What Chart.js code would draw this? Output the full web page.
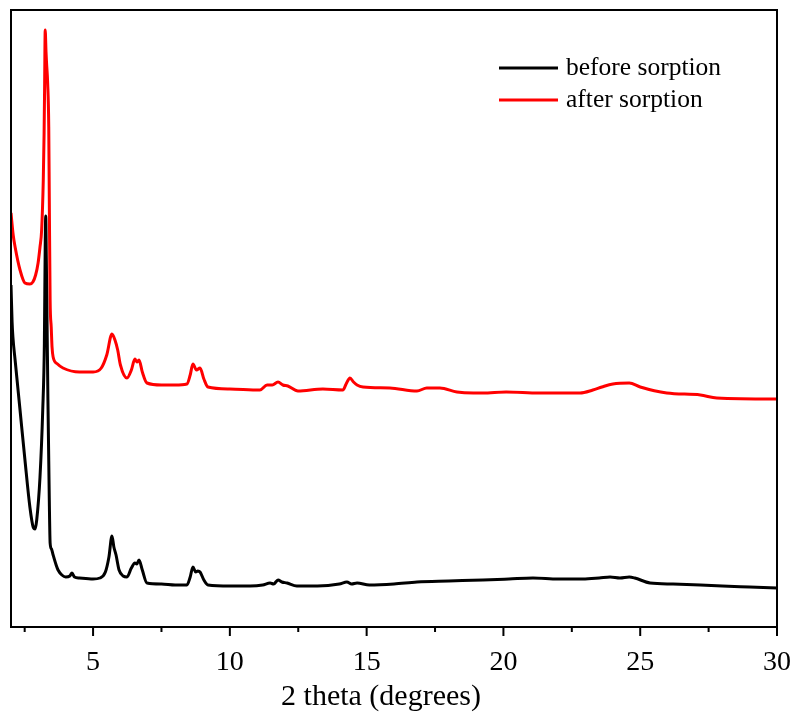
<!DOCTYPE html>
<html>
<head>
<meta charset="utf-8">
<script src="https://cdn.jsdelivr.net/npm/chart.js@4/dist/chart.umd.min.js"></script>
<style>
  html, body { margin: 0; padding: 0; background: #fff; }
  #wrap { width: 797px; height: 717px; }
</style>
</head>
<body>
<div id="wrap"><canvas id="xrdChart"></canvas></div>
<script>
// 2 theta positions and intensities (a.u.)
var beforeX = [2.00, 2.04, 2.07, 2.15, 2.33, 2.51, 2.69, 2.81, 2.88, 2.94, 3.06, 3.16, 3.22, 3.25, 3.27, 3.29, 3.32, 3.35, 3.40, 3.43,
  3.48, 3.54, 3.65, 3.72, 3.86, 4.00, 4.15, 4.23, 4.32, 4.50, 5.00, 5.25, 5.45, 5.58, 5.69, 5.76, 5.84, 5.95, 6.10, 6.24,
  6.40, 6.53, 6.60, 6.68, 6.80, 6.97, 7.50, 8.00, 8.43, 8.55, 8.65, 8.75, 8.83, 8.91, 9.05, 9.20, 10.0, 10.74, 11.2, 11.47,
  11.6, 11.76, 11.9, 12.09, 12.45, 13.2, 14.0, 14.28, 14.45, 14.65, 15.1, 16.0, 16.84, 18.0, 19.25, 20.2, 21.08, 22.0, 22.9, 23.5,
  23.9, 24.26, 24.6, 24.8, 25.36, 26.2, 27.2, 28.0, 29.0, 30.0];
var beforeY = [342, 305, 290, 267, 217, 167, 120, 100, 98, 107, 150, 217, 284, 380, 411, 370, 300, 227, 127, 84,
  78, 72, 62, 57, 52, 50, 51, 54, 50, 49, 48, 49, 55, 70, 91, 80, 72, 57, 51, 50,
  59, 64, 63, 67, 57, 44, 43, 42, 42, 50, 60, 55, 56, 55, 47, 42, 41, 41, 42, 44,
  43, 47, 45, 44, 41, 41, 43, 45, 43, 44, 42, 43, 45, 46, 47, 48, 49, 48, 48, 49,
  50, 49, 50, 49, 44, 43, 42, 41, 40, 39];

var afterX = [2.00, 2.08, 2.15, 2.33, 2.51, 2.69, 2.80, 2.90, 2.99, 3.06, 3.12, 3.18, 3.21, 3.23, 3.25, 3.28, 3.30, 3.34, 3.38, 3.40,
  3.43, 3.47, 3.50, 3.54, 3.70, 3.90, 4.50, 5.00, 5.30, 5.50, 5.69, 5.80, 5.90, 6.00, 6.24, 6.40, 6.53, 6.60, 6.68, 6.80,
  6.97, 7.50, 8.00, 8.43, 8.55, 8.65, 8.78, 8.91, 9.05, 9.20, 10.0, 11.1, 11.36, 11.55, 11.76, 11.94, 12.12, 12.49, 13.4, 14.13,
  14.25, 14.39, 14.52, 14.65, 14.87, 15.85, 16.84, 17.2, 17.68, 18.3, 18.9, 19.25, 20.1, 21.3, 22.8, 23.27, 23.6, 24.0, 24.6, 25.0,
  25.97, 27.2, 27.8, 29.85, 30.0];
var afterY = [414, 392, 380, 357, 344, 343, 345, 352, 364, 380, 397, 447, 494, 544, 597, 575, 564, 544, 500, 427,
  327, 300, 280, 270, 263, 259, 255, 255, 259, 272, 293, 287, 277, 262, 249, 257, 268, 265, 267, 255,
  244, 242, 242, 243, 252, 263, 257, 259, 248, 240, 238, 237, 242, 242, 245, 242, 241, 236, 238, 237,
  243, 249, 245, 242, 240, 239, 236, 239, 239, 235, 234, 234, 235, 234, 234, 237, 240, 243, 244, 240,
  234, 232, 229, 228, 228];

var seriesLabels = ['before sorption', 'after sorption'];
var seriesColors = ['#000000', '#ff0000'];
var majorTicks = [5, 10, 15, 20, 25, 30];
var minorTicks = [2.5, 7.5, 12.5, 17.5, 22.5, 27.5];
var xTitle = '2 theta (degrees)';

function toPoints(xs, ys) {
  return xs.map((x, i) => ({ x: x, y: ys[i] }));
}

// frame, tick marks, axis title and in-plot legend
var framePlugin = {
  id: 'frame',
  afterDraw(chart) {
    var ctx = chart.ctx;
    var area = chart.chartArea;
    var xScale = chart.scales.x;
    ctx.save();
    ctx.strokeStyle = '#000';
    ctx.lineWidth = 2;
    ctx.strokeRect(area.left, area.top, area.right - area.left, area.bottom - area.top);
    ctx.beginPath();
    majorTicks.forEach(v => {
      var px = xScale.getPixelForValue(v);
      ctx.moveTo(px, area.bottom);
      ctx.lineTo(px, area.bottom + 9);
    });
    minorTicks.forEach(v => {
      var px = xScale.getPixelForValue(v);
      ctx.moveTo(px, area.bottom);
      ctx.lineTo(px, area.bottom + 5);
    });
    ctx.stroke();

    // x axis title (sits a little left of centre in the original)
    ctx.fillStyle = '#000';
    ctx.font = '30px "Liberation Serif"';
    ctx.textAlign = 'center';
    ctx.textBaseline = 'alphabetic';
    ctx.fillText(xTitle, (area.left + area.right) / 2 - 13, area.bottom + 78);

    // legend
    ctx.font = '25.5px "Liberation Serif"';
    ctx.textAlign = 'left';
    ctx.textBaseline = 'middle';
    chart.data.datasets.forEach((ds, i) => {
      var y = area.top + 58 + i * 32;
      ctx.strokeStyle = ds.borderColor;
      ctx.lineWidth = 3;
      ctx.beginPath();
      ctx.moveTo(area.left + 488, y);
      ctx.lineTo(area.left + 547, y);
      ctx.stroke();
      ctx.fillStyle = '#000';
      ctx.fillText(ds.label, area.left + 555, y);
    });
    ctx.restore();
  }
};

new Chart(document.getElementById('xrdChart').getContext('2d'), {
  type: 'line',
  data: {
    datasets: [{
      label: seriesLabels[0],
      data: toPoints(beforeX, beforeY),
      borderColor: seriesColors[0],
      borderWidth: 3,
      pointRadius: 0,
      cubicInterpolationMode: 'monotone',
      fill: false
    }, {
      label: seriesLabels[1],
      data: toPoints(afterX, afterY),
      borderColor: seriesColors[1],
      borderWidth: 3,
      pointRadius: 0,
      cubicInterpolationMode: 'monotone',
      fill: false
    }]
  },
  options: {
    responsive: true,
    maintainAspectRatio: false,
    animation: false,
    layout: { padding: { left: 11, top: 10, right: 20, bottom: 0 } },
    plugins: {
      legend: { display: false },
      tooltip: { enabled: false }
    },
    scales: {
      x: {
        type: 'linear',
        min: 2,
        max: 30,
        afterBuildTicks: (scale) => {
          scale.ticks = majorTicks.map(v => ({ value: v }));
        },
        afterFit: (scale) => {
          scale.height = 90;
          scale.paddingLeft = 0;
          scale.paddingRight = 0;
        },
        grid: { display: false, drawTicks: false },
        border: { display: false },
        ticks: {
          color: '#000',
          padding: 19,
          maxRotation: 0,
          font: { family: 'Liberation Serif', size: 28 }
        },
        title: { display: false }
      },
      y: {
        display: false,
        min: 0,
        max: 617
      }
    }
  },
  plugins: [framePlugin]
});
</script>
</body>
</html>
